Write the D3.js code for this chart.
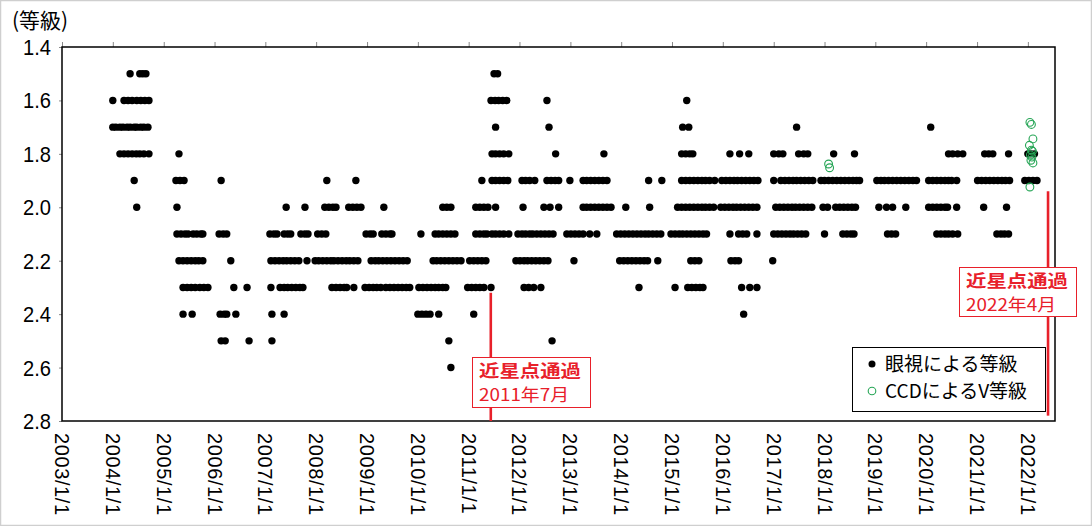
<!DOCTYPE html>
<html><head><meta charset="utf-8">
<script src="https://cdn.jsdelivr.net/npm/d3@7/dist/d3.min.js"></script>
<style>
body{margin:0;background:#fff;}
svg{display:block;}
.num{font-family:"Liberation Sans Narrow","Liberation Sans",Arial,sans-serif;}
.jp{font-family:"Noto Sans CJK JP","Noto Sans",sans-serif;}
</style></head>
<body>
<svg id="c" width="1092" height="526"></svg>
<script>
// ---- data ----
const xTickYears = [2003,2004,2005,2006,2007,2008,2009,2010,2011,2012,2013,2014,2015,2016,2017,2018,2019,2020,2021,2022];
const xTickLabels = xTickYears.map(y => y + "/1/1");
const yTicks = [1.4,1.6,1.8,2.0,2.2,2.4,2.6,2.8];

// visual magnitude estimates, one array per magnitude level (decimal years)
const v15 = [2004.34,2004.53,2004.59,2004.65,2011.50,2011.57];
const v16 = [2004.00,2004.22,2004.30,2004.38,2004.47,2004.55,2004.63,2004.71,2011.44,2011.52,2011.59,2011.67,2011.75,2012.54,2015.29];
const v17 = [2004.00,2004.06,2004.14,2004.20,2004.28,2004.34,2004.42,2004.47,2004.55,2004.61,2004.69,2011.53,2012.58,2015.21,2015.33,2017.45,2020.09];
const v18 = [2004.14,2004.22,2004.30,2004.38,2004.46,2004.53,2004.61,2004.71,2005.30,2011.46,2011.53,2011.61,2011.69,2011.79,2012.71,2013.66,2015.19,2015.27,2015.35,2015.41,2016.14,2016.33,2016.51,2017.00,2017.10,2017.18,2017.49,2017.59,2017.67,2018.18,2018.59,2020.44,2020.52,2020.62,2020.72,2021.15,2021.23,2021.31,2021.62,2022.00,2022.06,2022.13];
const v19 = [2004.42,2005.24,2005.32,2005.40,2006.13,2008.21,2008.78,2011.26,2011.46,2011.53,2011.61,2011.69,2011.77,2012.05,2012.12,2012.20,2012.30,2012.54,2012.62,2012.70,2012.77,2012.99,2013.25,2013.32,2013.40,2013.48,2013.56,2013.64,2013.72,2014.54,2014.80,2015.19,2015.27,2015.35,2015.43,2015.51,2015.59,2015.66,2015.74,2015.84,2015.98,2016.06,2016.14,2016.22,2016.29,2016.37,2016.45,2016.53,2016.61,2016.69,2017.00,2017.14,2017.22,2017.30,2017.38,2017.45,2017.53,2017.61,2017.69,2017.77,2017.93,2018.00,2018.08,2018.16,2018.24,2018.32,2018.40,2018.48,2018.56,2018.63,2018.69,2019.03,2019.11,2019.18,2019.26,2019.34,2019.42,2019.50,2019.58,2019.66,2019.74,2019.81,2020.05,2020.13,2020.21,2020.29,2020.37,2020.44,2020.50,2020.60,2021.01,2021.09,2021.17,2021.25,2021.33,2021.41,2021.49,2021.56,2021.64,2021.94,2022.02,2022.10,2022.18];
const v20 = [2004.47,2005.26,2007.41,2007.78,2008.17,2008.25,2008.33,2008.39,2008.64,2008.72,2008.80,2008.88,2009.33,2010.49,2010.57,2010.65,2011.14,2011.22,2011.30,2011.38,2011.53,2012.07,2012.48,2012.60,2012.77,2013.25,2013.32,2013.40,2013.48,2013.56,2013.64,2013.72,2013.80,2014.09,2014.56,2015.11,2015.19,2015.27,2015.35,2015.43,2015.51,2015.59,2015.66,2015.74,2015.82,2015.96,2016.04,2016.12,2016.20,2016.27,2016.35,2016.43,2016.51,2016.59,2016.67,2017.04,2017.12,2017.20,2017.28,2017.36,2017.43,2017.51,2017.59,2017.67,2017.75,2017.97,2018.06,2018.22,2018.30,2018.38,2018.46,2018.54,2018.61,2019.07,2019.22,2019.34,2019.60,2020.05,2020.13,2020.21,2020.29,2020.37,2020.42,2020.60,2021.13,2021.58];
const v21 = [2005.26,2005.34,2005.42,2005.48,2005.58,2005.65,2005.73,2005.77,2006.09,2006.17,2006.24,2007.09,2007.17,2007.23,2007.37,2007.44,2007.50,2007.70,2007.78,2007.84,2008.03,2008.11,2008.19,2008.98,2009.06,2009.12,2009.29,2009.37,2009.45,2009.49,2010.06,2010.34,2010.41,2010.49,2010.57,2010.65,2010.73,2011.14,2011.22,2011.30,2011.36,2011.46,2011.53,2011.61,2011.69,2011.79,2011.97,2012.05,2012.12,2012.20,2012.26,2012.34,2012.42,2012.50,2012.58,2012.66,2012.93,2013.01,2013.09,2013.17,2013.25,2013.38,2013.52,2013.91,2013.99,2014.07,2014.15,2014.23,2014.31,2014.39,2014.47,2014.54,2014.62,2014.70,2014.78,2014.98,2015.06,2015.14,2015.21,2015.29,2015.37,2015.45,2015.53,2015.61,2015.68,2016.14,2016.31,2016.39,2016.47,2016.67,2017.00,2017.08,2017.16,2017.24,2017.32,2017.39,2017.47,2017.55,2017.63,2018.00,2018.36,2018.44,2018.52,2018.58,2019.24,2019.32,2019.40,2020.21,2020.29,2020.37,2020.44,2020.52,2020.62,2021.39,2021.47,2021.54,2021.62];
const v22 = [2005.30,2005.38,2005.46,2005.54,2005.62,2005.69,2005.77,2006.32,2007.11,2007.19,2007.27,2007.35,2007.42,2007.50,2007.58,2007.66,2007.82,2007.98,2008.05,2008.13,2008.21,2008.29,2008.35,2008.43,2008.51,2008.59,2008.66,2008.74,2008.82,2009.08,2009.16,2009.23,2009.31,2009.39,2009.47,2009.55,2009.63,2009.71,2009.79,2010.30,2010.37,2010.45,2010.53,2010.61,2010.69,2010.77,2010.85,2011.02,2011.10,2011.18,2011.26,2011.34,2011.93,2012.01,2012.09,2012.16,2012.24,2012.32,2012.40,2012.48,2012.56,2013.07,2013.97,2014.05,2014.13,2014.21,2014.29,2014.37,2014.45,2014.52,2014.72,2015.37,2015.45,2015.53,2016.16,2016.24,2016.31,2016.98];
const v23 = [2005.38,2005.46,2005.54,2005.62,2005.71,2005.79,2005.87,2006.38,2006.64,2007.11,2007.29,2007.37,2007.44,2007.52,2007.60,2007.68,2007.74,2008.31,2008.39,2008.47,2008.55,2008.60,2008.74,2008.96,2009.04,2009.12,2009.19,2009.27,2009.37,2009.45,2009.53,2009.61,2009.69,2009.77,2009.84,2010.02,2010.10,2010.18,2010.26,2010.34,2010.41,2010.49,2010.55,2010.98,2011.06,2011.14,2011.22,2011.30,2011.44,2012.09,2012.18,2012.28,2012.42,2014.35,2015.06,2015.31,2015.39,2015.47,2015.55,2015.61,2016.37,2016.53,2016.67];
const v24 = [2005.38,2005.56,2006.11,2006.19,2006.24,2006.42,2007.13,2007.37,2010.00,2010.08,2010.16,2010.24,2010.41,2011.10,2016.41];
const v25 = [2006.13,2006.21,2006.68,2007.13,2010.61,2012.64];
const v26 = [2010.65];
const visualLevels = [1.5,1.6,1.7,1.8,1.9,2.0,2.1,2.2,2.3,2.4,2.5,2.6];
const visualRows = [v15,v16,v17,v18,v19,v20,v21,v22,v23,v24,v25,v26];

// CCD V magnitudes
const ccdYear = [2018.08,2018.10,2022.04,2022.07,2022.10,2022.03,2022.07,2022.09,2022.05,2022.08,2022.06,2022.10,2022.04];
const ccdMag  = [1.838,1.852,1.682,1.690,1.744,1.768,1.786,1.790,1.804,1.812,1.824,1.834,1.924];

// perihelion annotations
const periDates  = ["2011-06-09","2022-05-26"];
const periLine1  = ["近星点通過","近星点通過"];
const periLine2  = ["2011年7月","2022年4月"];
const periTopMag = [2.32,1.94];
const periBotMag = [2.8,2.78];

// ---- helpers ----
function decYear(d){
  const y = Math.floor(d), f = d - y;
  const a = Date.UTC(y,0,1), b = Date.UTC(y+1,0,1);
  return new Date(a + f*(b-a));
}
const visual = [];
visualRows.forEach((row,i)=>row.forEach(t=>visual.push({date:decYear(t), mag:visualLevels[i]})));
const ccd = ccdYear.map((t,i)=>({date:decYear(t), mag:ccdMag[i]}));

// ---- chart ----
const svg = d3.select("#c");
const L=62, R=1055, T=47, B=421;
const x = d3.scaleUtc().domain([new Date(Date.UTC(2003,0,1)), new Date(Date.UTC(2022,6,15))]).range([L,R]);
const y = d3.scaleLinear().domain([1.4,2.8]).range([T,B]);

// outer frame
svg.append("rect").attr("x",0.5).attr("y",0.5).attr("width",1091).attr("height",525)
  .attr("fill","#fff").attr("stroke","#cfcfcf").attr("stroke-width",1.5);

// title
svg.append("text").attr("class","jp").attr("x",12).attr("y",28).attr("font-size",21)
  .attr("textLength",56).attr("lengthAdjust","spacingAndGlyphs").attr("fill","#000").text("(等級)");

// top ticks
const tickDates = xTickYears.map(yy=>new Date(Date.UTC(yy,0,1)));
svg.append("g").attr("transform",`translate(0,${T})`)
  .call(d3.axisTop(x).tickValues(tickDates).tickSize(5).tickFormat(""))
  .call(g=>{g.select(".domain").remove(); g.selectAll("line").attr("stroke","#888");});

// left axis ticks + labels
svg.append("g").attr("transform",`translate(${L},0)`)
  .call(d3.axisLeft(y).tickValues(yTicks).tickSize(3).tickPadding(8).tickFormat(d3.format(".1f")))
  .call(g=>{g.select(".domain").remove();
    g.selectAll("line").attr("stroke","#888");
    g.selectAll("text").attr("class","num").attr("font-size",22).attr("fill","#000").attr("dy","0.34em")
      .attr("textLength",28).attr("lengthAdjust","spacingAndGlyphs");});

// bottom labels (rotated)
svg.append("g").selectAll("text").data(tickDates).join("text")
  .attr("transform",(d,i)=>`translate(${x(d)},433) rotate(90)`)
  .attr("dy","0.35em")
  .attr("font-family","'Liberation Sans',Arial,sans-serif")
  .attr("font-size",20).attr("fill","#000")
  .attr("letter-spacing","0.6")
  .text((d,i)=>xTickLabels[i]);

// plot frame
svg.append("rect").attr("x",L).attr("y",T).attr("width",R-L).attr("height",B-T)
  .attr("fill","none").attr("stroke","#000").attr("stroke-width",1.5);

// visual points
svg.append("g").selectAll("circle").data(visual).join("circle")
  .attr("cx",d=>x(d.date)).attr("cy",d=>y(d.mag)).attr("r",3.7).attr("fill","#000");

// CCD points
svg.append("g").selectAll("circle").data(ccd).join("circle")
  .attr("cx",d=>x(d.date)).attr("cy",d=>y(d.mag)).attr("r",3.9)
  .attr("fill","none").attr("stroke","#25a555").attr("stroke-width",1.1);

// perihelion lines
svg.append("g").selectAll("line").data(periDates).join("line")
  .attr("x1",d=>x(new Date(d+"T00:00:00Z"))).attr("x2",d=>x(new Date(d+"T00:00:00Z")))
  .attr("y1",(d,i)=>y(periTopMag[i])).attr("y2",(d,i)=>y(periBotMag[i]))
  .attr("stroke","#e8202a").attr("stroke-width",2.6);

// annotation boxes
const boxes = [{x:472,y:357,w:118,h:50},{x:959,y:267,w:117,h:49}];
boxes.forEach((b,i)=>{
  const g = svg.append("g");
  g.append("rect").attr("x",b.x+0.5).attr("y",b.y+0.5).attr("width",b.w).attr("height",b.h)
    .attr("fill","#fff").attr("stroke","#e8202a").attr("stroke-width",1);
  g.append("text").attr("class","jp").attr("x",b.x+7).attr("y",b.y+20).attr("font-size",17)
    .attr("textLength",102).attr("lengthAdjust","spacingAndGlyphs")
    .attr("font-weight","bold").attr("fill","#e8202a").text(periLine1[i]);
  g.append("text").attr("class","jp").attr("x",b.x+7).attr("y",b.y+44).attr("font-size",17)
    .attr("textLength",90).attr("lengthAdjust","spacingAndGlyphs")
    .attr("fill","#e8202a").text(periLine2[i]);
});

// legend
const lg = svg.append("g");
lg.append("rect").attr("x",852.5).attr("y",347.5).attr("width",193).attr("height",64)
  .attr("fill","#fff").attr("stroke","#000").attr("stroke-width",1);
lg.append("circle").attr("cx",872).attr("cy",364).attr("r",3.5).attr("fill","#000");
lg.append("circle").attr("cx",872).attr("cy",391).attr("r",3.8).attr("fill","none").attr("stroke","#25a555").attr("stroke-width",1.1);
lg.append("text").attr("class","jp").attr("x",885).attr("y",371).attr("font-size",19).attr("fill","#000").text("眼視による等級");
lg.append("text").attr("class","jp").attr("x",885).attr("y",398).attr("font-size",19).attr("fill","#000").text("CCDによるV等級");
</script>
</body></html>
